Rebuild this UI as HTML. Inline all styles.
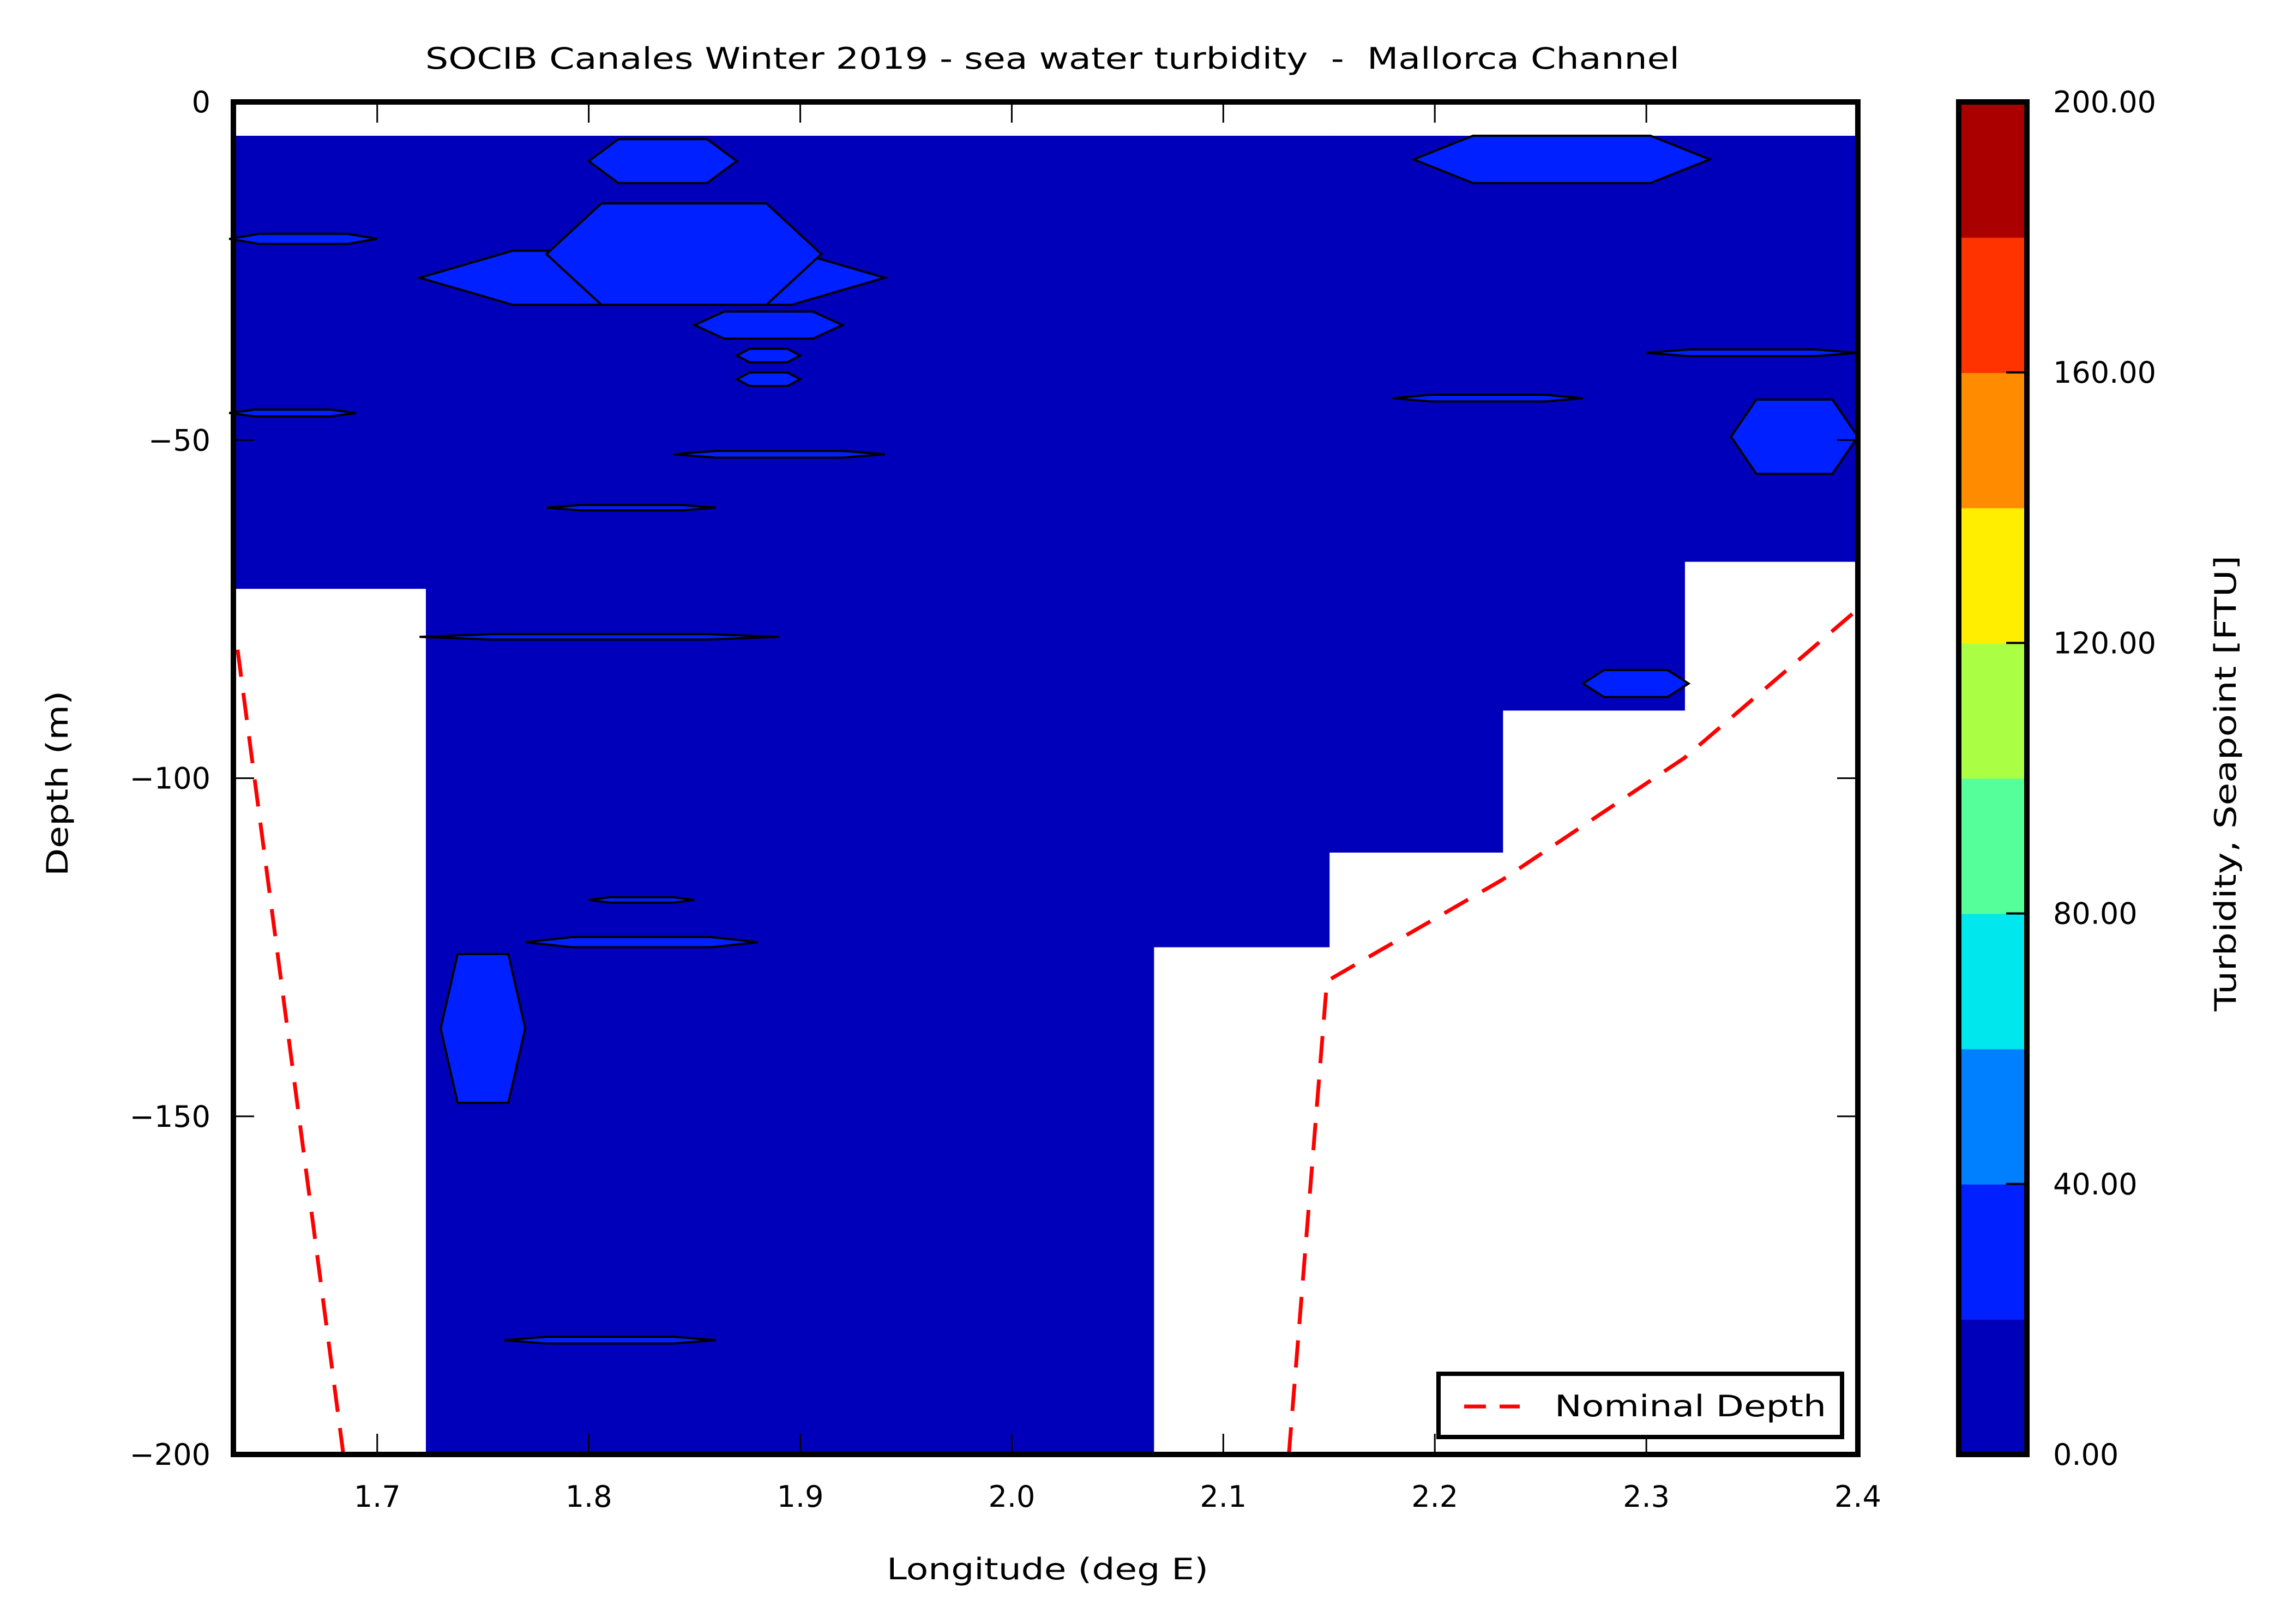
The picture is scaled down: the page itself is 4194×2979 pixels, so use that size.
<!DOCTYPE html>
<html><head><meta charset="utf-8"><style>
html,body{margin:0;padding:0;background:#fff}
svg{display:block}
text{font-family:"DejaVu Sans","Liberation Sans",sans-serif;fill:#000;white-space:pre}
</style></head><body>
<svg id="chart" width="4194" height="2979" viewBox="0 0 4194 2979" xmlns="http://www.w3.org/2000/svg" style="position:absolute;left:0;top:0">
<g id="plot"></g>
<g id="axes"></g>
<g id="cbar"></g>
<text x="1930" y="126" font-size="54" text-anchor="middle" textLength="2300" lengthAdjust="spacingAndGlyphs">SOCIB Canales Winter 2019 - sea water turbidity  -  Mallorca Channel</text>
<text x="1921" y="2897" font-size="54" text-anchor="middle" textLength="590" lengthAdjust="spacingAndGlyphs">Longitude (deg E)</text>
<text x="124" y="1437" font-size="54" text-anchor="middle" textLength="340" lengthAdjust="spacingAndGlyphs" transform="rotate(-90 124 1437)">Depth (m)</text>
<text x="4100" y="1437" font-size="54" text-anchor="middle" textLength="836" lengthAdjust="spacingAndGlyphs" transform="rotate(-90 4100 1437)">Turbidity, Seapoint [FTU]</text>
</svg>
<script>
const xTicks=[1.7,1.8,1.9,2.0,2.1,2.2,2.3,2.4];
const xTickLabels=["1.7","1.8","1.9","2.0","2.1","2.2","2.3","2.4"];
const yTicks=[0,-50,-100,-150,-200];
const yTickLabels=["0","\u221250","\u2212100","\u2212150","\u2212200"];
const cbLevels=[0,20,40,60,80,100,120,140,160,180,200];
const cbColors=["#0000bb","#0020ff","#0080ff","#00e8ee","#55ff99","#aaff44","#ffee00","#ff8c00","#ff3300","#aa0000"];
const cbTicks=[0,40,80,120,160,200];
const cbTickLabels=["0.00","40.00","80.00","120.00","160.00","200.00"];
const colStart=[1.632,1.723,2.067,2.150,2.232,2.318];
const colEnd=[1.723,2.067,2.150,2.232,2.318,2.400];
const colDepth=[72,200,125,111,90,68];
const topDepth=5;
const patchLonMin=[1.72,1.78,1.80,1.85,1.87,1.87,2.19,2.34,2.27,1.73,2.18,1.77,1.72,1.76,1.78,1.80,1.84,1.63,2.30,1.63];
const patchLonMax=[1.94,1.91,1.87,1.92,1.90,1.90,2.33,2.40,2.32,1.77,2.27,1.88,1.89,1.86,1.86,1.85,1.94,1.70,2.40,1.69];
const patchTop=[22,15,5.5,31,36.5,40,5,44,84,126,43.3,123.5,78.7,182.6,59.6,117.6,51.6,19.5,36.6,45.5];
const patchBot=[30,30,12,35,38.5,42,12,55,88,148,44.3,125,79.5,183.6,60.4,118.4,52.6,21,37.6,46.5];
const nd1Lon=[1.634,1.684];
const nd1Dep=[81,200];
const nd2Lon=[2.131,2.149,2.232,2.318,2.400];
const nd2Dep=[200,130,115,97,75];

const X0=428,X1=3407,Y0=187,Y1=2668,LMIN=1.632,LMAX=2.400;
const xs=l=>X0+(l-LMIN)/(LMAX-LMIN)*(X1-X0);
const ys=d=>Y0+d/200*(Y1-Y0);
const NS="http://www.w3.org/2000/svg";
function mk(parent,tag,attrs,txt){const e=document.createElementNS(NS,tag);for(const k in attrs)e.setAttribute(k,attrs[k]);if(txt!==undefined)e.textContent=txt;parent.appendChild(e);return e;}
const plot=document.getElementById('plot'),axes=document.getElementById('axes'),cbar=document.getElementById('cbar');

for(let i=0;i<colStart.length;i++){
  const r=mk(plot,'rect',{x:xs(colStart[i]),y:ys(topDepth),width:xs(colEnd[i])-xs(colStart[i])+1,height:ys(colDepth[i])-ys(topDepth),fill:cbColors[0]});
  
  
}
for(let i=0;i<patchLonMin.length;i++){
  const a=xs(patchLonMin[i]),b=xs(patchLonMax[i]),t=ys(patchTop[i]),bo=ys(patchBot[i]);
  const w=b-a,m=(t+bo)/2;
  const pts=[[a,m],[a+w*0.2,t],[a+w*0.8,t],[b,m],[a+w*0.8,bo],[a+w*0.2,bo]].map(p=>p.join(',')).join(' ');
  const p=mk(plot,'polygon',{points:pts,fill:cbColors[1],stroke:'#000','stroke-width':4});
  
  
}
function dline(lons,deps){
  const d=lons.map((l,i)=>(i?'L':'M')+xs(l)+','+ys(deps[i])).join(' ');
  const p=mk(plot,'path',{d:d,fill:'none',stroke:'#ff0000','stroke-width':7,'stroke-dasharray':'50,30'});
  
  
}
dline(nd1Lon,nd1Dep);dline(nd2Lon,nd2Dep);

const fr=mk(axes,'rect',{x:X0,y:Y0,width:X1-X0,height:Y1-Y0,fill:'none',stroke:'#000','stroke-width':10});


xTicks.forEach((v,i)=>{
  const x=xs(v);
  mk(axes,'line',{x1:x,y1:Y1,x2:x,y2:Y1-38,stroke:'#000','stroke-width':3});
  mk(axes,'line',{x1:x,y1:Y0,x2:x,y2:Y0+38,stroke:'#000','stroke-width':3});
  const t=mk(axes,'text',{x:x,y:2764,'font-size':54,'text-anchor':'middle'},xTickLabels[i]);
  
  
});
yTicks.forEach((v,i)=>{
  const y=ys(-v);
  mk(axes,'line',{x1:X0,y1:y,x2:X0+38,y2:y,stroke:'#000','stroke-width':3});
  mk(axes,'line',{x1:X1,y1:y,x2:X1-38,y2:y,stroke:'#000','stroke-width':3});
  const t=mk(axes,'text',{x:386,y:y+19,'font-size':54,'text-anchor':'end'},yTickLabels[i]);
  
  
});
const lg=mk(axes,'g',{});


mk(lg,'rect',{x:2638,y:2520,width:740,height:116,fill:'#fff',stroke:'#000','stroke-width':8});
mk(lg,'line',{x1:2685,y1:2580,x2:2787,y2:2580,stroke:'#ff0000','stroke-width':7,'stroke-dasharray':'40,25'});
const lt=mk(lg,'text',{x:2851,y:2598,'font-size':54,textLength:498,lengthAdjust:'spacingAndGlyphs'},'Nominal Depth');



const CX0=3592,CX1=3717;
for(let i=0;i<cbColors.length;i++){
  const ya=Y1-(cbLevels[i+1]/200)*(Y1-Y0),yb=Y1-(cbLevels[i]/200)*(Y1-Y0);
  const r=mk(cbar,'rect',{x:CX0,y:ya,width:CX1-CX0,height:yb-ya+1,fill:cbColors[i]});
  
  
}
mk(cbar,'rect',{x:CX0,y:Y0,width:CX1-CX0,height:Y1-Y0,fill:'none',stroke:'#000','stroke-width':10});
cbTicks.forEach((v,i)=>{
  const y=Y1-(v/200)*(Y1-Y0);
  mk(cbar,'line',{x1:CX1,y1:y,x2:CX1-38,y2:y,stroke:'#000','stroke-width':4});
  const t=mk(cbar,'text',{x:3765,y:y+19,'font-size':54},cbTickLabels[i]);
  
  
});
</script>
</body></html>
